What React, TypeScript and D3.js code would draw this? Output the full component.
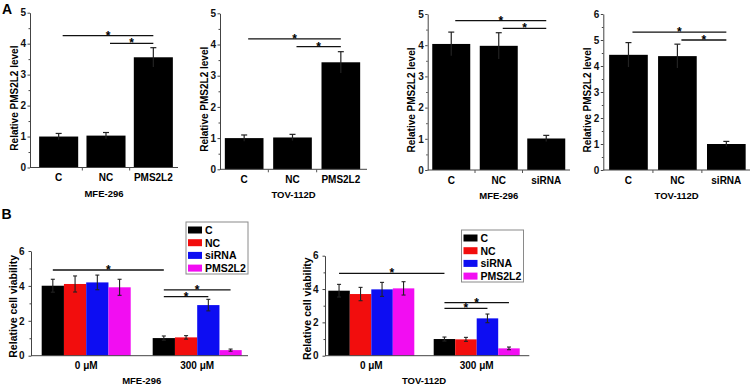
import { useRef, useEffect } from "react";
import * as d3 from "d3";

// panel A data
const catsOver = ["C", "NC", "PMS2L2"];
const catsKnock = ["C", "NC", "siRNA"];
const mfeOverValues = [1.0, 1.03, 3.56];
const mfeOverErrors = [0.1, 0.1, 0.31];
const tovOverValues = [1.0, 1.02, 3.43];
const tovOverErrors = [0.1, 0.1, 0.34];
const mfeKnockValues = [4.04, 3.98, 1.01];
const mfeKnockErrors = [0.38, 0.42, 0.1];
const tovKnockValues = [4.43, 4.38, 1.0];
const tovKnockErrors = [0.47, 0.46, 0.1];

// panel B data
const doses = ["0 μM", "300 μM"];
const seriesNames = ["C", "NC", "siRNA", "PMS2L2"];
const seriesColors = ["#000000", "#f20d0d", "#0d0df2", "#f20df2"];
const mfeViability = [
  [4.01, 1.01],
  [4.11, 1.05],
  [4.2, 2.9],
  [3.92, 0.32],
];
const mfeViabilityErr = [
  [0.37, 0.12],
  [0.46, 0.1],
  [0.42, 0.33],
  [0.46, 0.06],
];
const tovViability = [
  [3.9, 1.0],
  [3.7, 0.98],
  [3.98, 2.24],
  [4.04, 0.44],
];
const tovViabilityErr = [
  [0.38, 0.12],
  [0.4, 0.12],
  [0.42, 0.26],
  [0.4, 0.08],
];

const FONT = "'Liberation Sans', Arial, sans-serif";

type Sig = { from: string; to: string; level: number };
type Box = { axisX: number; axisEnd: number; band: [number, number]; y0: number; yTop: number; pad: number };

function drawSimple(
  svg: d3.Selection<SVGSVGElement, unknown, null, undefined>,
  cats: string[],
  values: number[],
  errors: number[],
  yMax: number,
  title: string,
  sigs: Sig[],
  box: Box
) {
  const g = svg.append("g");
  const x = d3.scaleBand<string>().domain(cats).range(box.band).paddingInner(box.pad).paddingOuter(box.pad / 2);
  const y = d3.scaleLinear().domain([0, yMax]).range([box.y0, box.yTop]);

  g.selectAll("rect.bar")
    .data(cats)
    .enter()
    .append("rect")
    .attr("x", (d) => x(d)!)
    .attr("y", (_, i) => y(values[i]))
    .attr("width", x.bandwidth())
    .attr("height", (_, i) => box.y0 - y(values[i]))
    .attr("fill", "#000");

  cats.forEach((c, i) => {
    const cx = x(c)! + x.bandwidth() / 2;
    const top = y(values[i] + errors[i]);
    g.append("line").attr("x1", cx).attr("x2", cx).attr("y1", y(values[i] - errors[i])).attr("y2", top).attr("stroke", "#222").attr("stroke-width", 1.2);
    g.append("line").attr("x1", cx - 3).attr("x2", cx + 3).attr("y1", top).attr("y2", top).attr("stroke", "#222").attr("stroke-width", 1.2);
  });

  drawAxes(g, y, d3.range(0, yMax + 1, 1), d3.range(0.5, yMax, 1), box, 1.5);

  // category separators
  const step = x.step();
  cats.slice(0, -1).forEach((c) => {
    const bx = x(c)! + x.bandwidth() + (step - x.bandwidth()) / 2;
    g.append("line").attr("x1", bx).attr("x2", bx).attr("y1", box.y0).attr("y2", box.y0 + 3).attr("stroke", "#555");
  });
  g.selectAll("text.cat")
    .data(cats)
    .enter()
    .append("text")
    .attr("x", (d) => x(d)! + x.bandwidth() / 2)
    .attr("y", box.y0 + 13.5)
    .attr("text-anchor", "middle")
    .style("font", `bold 10px ${FONT}`)
    .text((d) => d);

  g.append("text")
    .attr("x", (box.axisX + box.axisEnd) / 2)
    .attr("y", box.y0 + 29)
    .attr("text-anchor", "middle")
    .style("font", `bold 9.5px ${FONT}`)
    .text(title);

  g.append("text")
    .attr("transform", `translate(${box.axisX - 12.5},${(box.y0 + box.yTop) / 2 + 8}) rotate(-90)`)
    .attr("text-anchor", "middle")
    .style("font", `bold 10px ${FONT}`)
    .text("Relative PMS2L2 level");

  sigs.forEach((s) => {
    const x1 = x(s.from)! + x.bandwidth() / 2 + 4;
    const x2 = x(s.to)! + x.bandwidth() / 2;
    drawSig(g, x1, x2, y(s.level));
  });
}

function drawAxes(
  g: d3.Selection<SVGGElement, unknown, null, undefined>,
  y: d3.ScaleLinear<number, number>,
  major: number[],
  minor: number[],
  box: Box,
  padding: number
) {
  const ax = g
    .append("g")
    .attr("transform", `translate(${box.axisX},0)`)
    .call(d3.axisLeft(y).tickValues(major).tickFormat(d3.format("d")).tickSize(2.5).tickPadding(padding).tickSizeOuter(0));
  ax.select(".domain").attr("stroke", "#444");
  ax.selectAll(".tick line").attr("stroke", "#444");
  ax.selectAll(".tick text").style("font", `bold 10px ${FONT}`).attr("fill", "#111");
  const mn = g.append("g").attr("transform", `translate(${box.axisX},0)`).call(d3.axisLeft(y).tickValues(minor).tickSize(1.5).tickFormat(() => ""));
  mn.select(".domain").remove();
  mn.selectAll(".tick line").attr("stroke", "#444");
  g.append("line").attr("x1", box.axisX).attr("x2", box.axisEnd).attr("y1", box.y0).attr("y2", box.y0).attr("stroke", "#444");
}

function drawSig(g: d3.Selection<SVGGElement, unknown, null, undefined>, x1: number, x2: number, ly: number) {
  g.append("line").attr("x1", x1).attr("x2", x2).attr("y1", ly).attr("y2", ly).attr("stroke", "#111").attr("stroke-width", 1.3);
  g.append("text")
    .attr("x", (x1 + x2) / 2)
    .attr("y", ly + 4)
    .attr("text-anchor", "middle")
    .style("font", `bold 12px ${FONT}`)
    .text("*");
}

type GSig = { fromDose: string; fromSeries: string; toDose: string; toSeries: string; level: number };

function drawGrouped(
  svg: d3.Selection<SVGSVGElement, unknown, null, undefined>,
  vals: number[][],
  errs: number[][],
  title: string,
  sigs: GSig[],
  box: Box,
  legendPos: [number, number]
) {
  const g = svg.append("g");
  const x0 = d3.scaleBand<string>().domain(doses).range(box.band).paddingInner(box.pad).paddingOuter(box.pad / 2);
  const x1 = d3.scaleBand<string>().domain(seriesNames).range([0, x0.bandwidth()]);
  const y = d3.scaleLinear().domain([0, 6]).range([box.y0, box.yTop]);
  const color = d3.scaleOrdinal<string, string>().domain(seriesNames).range(seriesColors);

  seriesNames.forEach((s, si) => {
    doses.forEach((d, di) => {
      const v = vals[si][di];
      g.append("rect")
        .attr("x", x0(d)! + x1(s)!)
        .attr("y", y(v))
        .attr("width", x1.bandwidth())
        .attr("height", box.y0 - y(v))
        .attr("fill", color(s));
    });
  });
  seriesNames.forEach((s, si) => {
    doses.forEach((d, di) => {
      const v = vals[si][di];
      const e = errs[si][di];
      const cx = x0(d)! + x1(s)! + x1.bandwidth() / 2;
      g.append("line").attr("x1", cx).attr("x2", cx).attr("y1", y(v - e)).attr("y2", y(v + e)).attr("stroke", "#222").attr("stroke-width", 1.1);
      [v - e, v + e].forEach((t) =>
        g.append("line").attr("x1", cx - 2).attr("x2", cx + 2).attr("y1", y(t)).attr("y2", y(t)).attr("stroke", "#222").attr("stroke-width", 1.1)
      );
    });
  });

  drawAxes(g, y, [0, 2, 4, 6], [1, 3, 5], box, 4);

  g.selectAll("text.dose")
    .data(doses)
    .enter()
    .append("text")
    .attr("x", (d) => x0(d)! + x0.bandwidth() / 2)
    .attr("y", box.y0 + 13)
    .attr("text-anchor", "middle")
    .style("font", `bold 10px ${FONT}`)
    .text((d) => d);

  g.append("text")
    .attr("x", (box.band[0] + box.band[1]) / 2)
    .attr("y", box.y0 + 28.5)
    .attr("text-anchor", "middle")
    .style("font", `bold 9.5px ${FONT}`)
    .text(title);

  g.append("text")
    .attr("transform", `translate(${box.axisX - 14},${(box.y0 + box.yTop) / 2 + 3}) rotate(-90)`)
    .attr("text-anchor", "middle")
    .style("font", `bold 10.5px ${FONT}`)
    .text("Relative cell viability");

  sigs.forEach((s) => {
    const a = x0(s.fromDose)! + x1(s.fromSeries)! + x1.bandwidth() / 2;
    const b = x0(s.toDose)! + x1(s.toSeries)! + x1.bandwidth() / 2;
    drawSig(g, a, b, y(s.level));
  });

  // legend
  const [lx, ly] = legendPos;
  const lg = g.append("g").attr("transform", `translate(${lx},${ly})`);
  lg.append("rect").attr("width", 62).attr("height", 52).attr("fill", "#fff").attr("stroke", "#8a8a8a");
  seriesNames.forEach((s, i) => {
    const cy = 8 + i * 12.7;
    lg.append("rect").attr("x", 2).attr("y", cy - 3.5).attr("width", 14).attr("height", 7).attr("fill", color(s));
    lg.append("text")
      .attr("x", 19)
      .attr("y", cy + 4)
      .style("font", `bold 10.5px ${FONT}`)
      .text(s);
  });
}

export default function App() {
  const ref = useRef<SVGSVGElement | null>(null);

  useEffect(() => {
    const svg = d3.select(ref.current!);
    svg.selectAll("*").remove();
    svg.append("rect").attr("width", 753).attr("height", 387).attr("fill", "#fff");

    drawSimple(svg, catsOver, mfeOverValues, mfeOverErrors, 5, "MFE-296",
      [{ from: "C", to: "PMS2L2", level: 4.26 }, { from: "NC", to: "PMS2L2", level: 4.01 }],
      { axisX: 30, axisEnd: 178, band: [35, 177], y0: 167.5, yTop: 12.7, pad: 0.175 });
    drawSimple(svg, catsOver, tovOverValues, tovOverErrors, 5, "TOV-112D",
      [{ from: "C", to: "PMS2L2", level: 4.18 }, { from: "NC", to: "PMS2L2", level: 3.93 }],
      { axisX: 220, axisEnd: 367, band: [220, 365], y0: 169.3, yTop: 13.3, pad: 0.2 });
    drawSimple(svg, catsKnock, mfeKnockValues, mfeKnockErrors, 5, "MFE-296",
      [{ from: "C", to: "siRNA", level: 4.79 }, { from: "NC", to: "siRNA", level: 4.54 }],
      { axisX: 427.7, axisEnd: 570, band: [427.5, 570], y0: 170, yTop: 14, pad: 0.2 });
    drawSimple(svg, catsKnock, tovKnockValues, tovKnockErrors, 6, "TOV-112D",
      [{ from: "C", to: "siRNA", level: 5.3 }, { from: "NC", to: "siRNA", level: 5.0 }],
      { axisX: 603.3, axisEnd: 750, band: [604, 750.8], y0: 170, yTop: 14, pad: 0.21 });

    drawGrouped(svg, mfeViability, mfeViabilityErr, "MFE-296",
      [
        { fromDose: "0 μM", fromSeries: "C", toDose: "300 μM", toSeries: "C", level: 4.91 },
        { fromDose: "300 μM", fromSeries: "C", toDose: "300 μM", toSeries: "PMS2L2", level: 3.77 },
        { fromDose: "300 μM", fromSeries: "C", toDose: "300 μM", toSeries: "siRNA", level: 3.38 },
      ],
      { axisX: 31, axisEnd: 248, band: [30.7, 252.7], y0: 355.7, yTop: 251, pad: 0.198 }, [186, 222]);
    drawGrouped(svg, tovViability, tovViabilityErr, "TOV-112D",
      [
        { fromDose: "0 μM", fromSeries: "C", toDose: "300 μM", toSeries: "C", level: 4.94 },
        { fromDose: "300 μM", fromSeries: "C", toDose: "300 μM", toSeries: "PMS2L2", level: 3.18 },
        { fromDose: "300 μM", fromSeries: "C", toDose: "300 μM", toSeries: "siRNA", level: 2.84 },
      ],
      { axisX: 325, axisEnd: 529.3, band: [318.6, 529.4], y0: 355.7, yTop: 255.7, pad: 0.184 }, [461.5, 230]);

    svg.append("text").attr("x", 2).attr("y", 13.5).style("font", `bold 14px ${FONT}`).text("A");
    svg.append("text").attr("x", 1.5).attr("y", 218.5).style("font", `bold 14px ${FONT}`).text("B");
  }, []);

  return <svg ref={ref} width={753} height={387} style={{ position: "absolute", left: 0, top: 0 }}></svg>;
}
